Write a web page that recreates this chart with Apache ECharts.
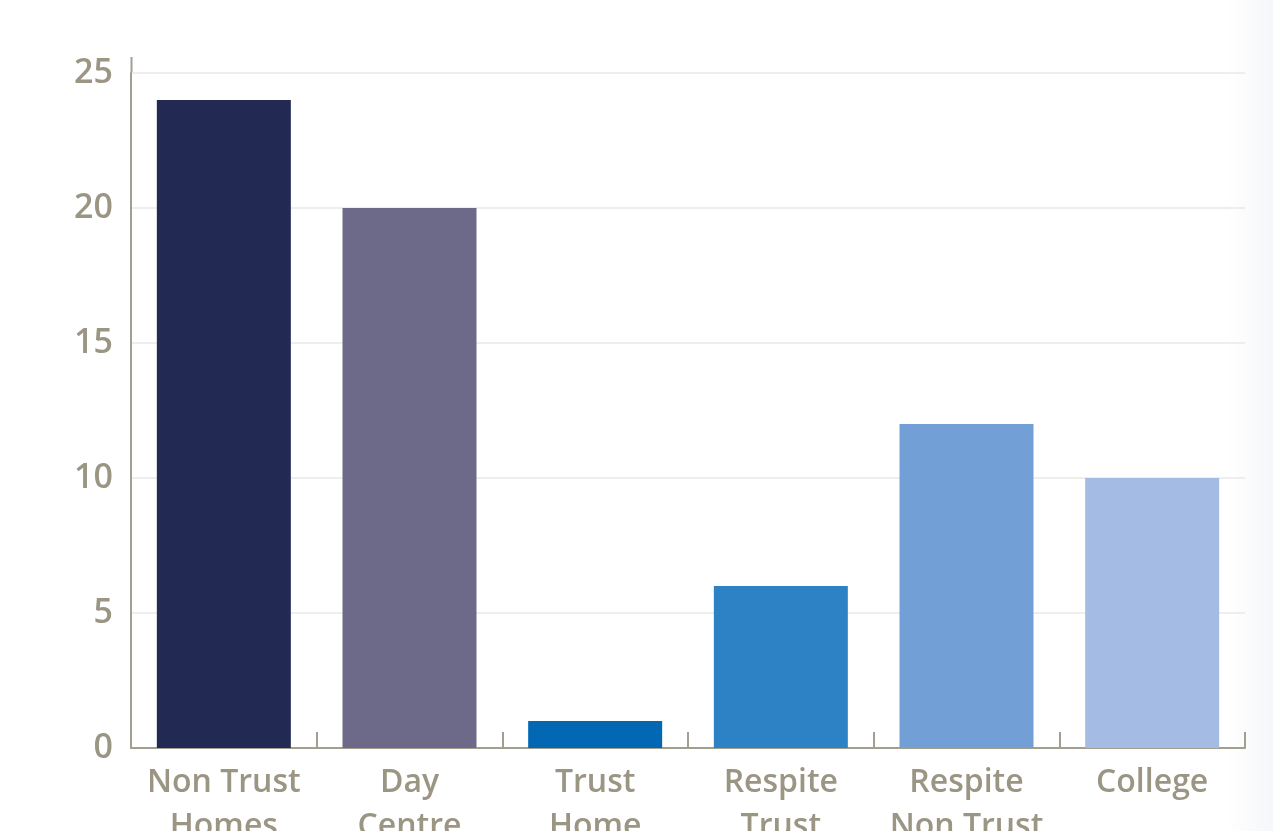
<!DOCTYPE html>
<html><head><meta charset="utf-8">
<script src="https://cdn.jsdelivr.net/npm/echarts@6/dist/echarts.min.js"></script>
<style>html,body{margin:0;padding:0;background:#fff}#c{width:1273px;height:831px}</style>
</head><body><div id="c"></div>
<script>
const categories = ['Non Trust\nHomes','Day\nCentre','Trust\nHome','Respite\nTrust','Respite\nNon Trust','College'];
const values = [24, 20, 1, 6, 12, 10];
const colors = ['#222a54','#6c6a88','#0268b3','#2d82c5','#729fd6','#a4bbe4'];
const yTicks = {min:0, max:25, interval:5};

const chart = echarts.init(document.getElementById('c'));
const labelColor = '#9b9584';
const axisColor = '#a39f8f';
const font = '"Open Sans", Lato, sans-serif';
chart.setOption({
  backgroundColor:'#ffffff',
  animation:false,
  grid:{left:131, right:28, top:73, bottom:83, containLabel:false, outerBoundsMode:'none'},
  graphic:[
    {type:'rect', shape:{x:1225,y:0,width:48,height:831}, silent:true, z:-10,
     style:{fill:new echarts.graphic.LinearGradient(0,0,1,0,[{offset:0,color:'rgba(246,247,250,0)'},{offset:1,color:'rgba(246,247,250,1)'}])}},
    {type:'line', shape:{x1:131.5,y1:57,x2:131.5,y2:73}, style:{stroke:axisColor, lineWidth:2}, silent:true}
  ],
  xAxis:{
    type:'category', data:categories,
    axisLine:{show:true, lineStyle:{color:axisColor, width:2}},
    axisTick:{show:true, inside:true, length:16, alignWithLabel:false, lineStyle:{color:axisColor, width:2}},
    axisLabel:{color:labelColor, fontSize:32, fontWeight:600, fontFamily:font, margin:13, lineHeight:44, interval:0}
  },
  yAxis:{
    type:'value', min:yTicks.min, max:yTicks.max, interval:yTicks.interval,
    axisLine:{show:true, lineStyle:{color:axisColor, width:2}},
    axisTick:{show:false},
    splitLine:{show:true, lineStyle:{color:'#e8e8e6', width:1.5}},
    axisLabel:{color:labelColor, fontSize:34, fontWeight:600, fontFamily:font, margin:18, padding:[10,0,0,0]}
  },
  series:[{
    type:'bar', barWidth:134,
    data: values.map((v,i)=>({value:v, itemStyle:{color:colors[i]}}))
  }]
});
</script></body></html>
